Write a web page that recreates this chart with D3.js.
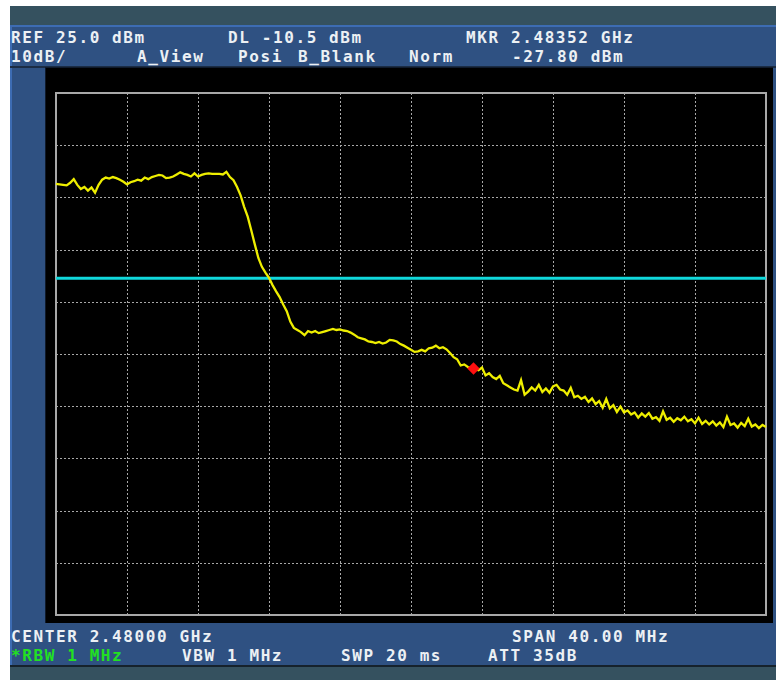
<!DOCTYPE html>
<html>
<head>
<meta charset="utf-8">
<script src="https://cdn.jsdelivr.net/npm/d3@7"></script>
<style>
  html, body { margin: 0; padding: 0; background: #ffffff; }
  svg { display: block; }
  text { font-family: "DejaVu Sans Mono", "Liberation Mono", monospace; font-size: 16px; font-weight: bold; letter-spacing: 1.6px; }
</style>
</head>
<body>
<svg id="chart" width="776" height="680"></svg>
<script>
// ---- instrument settings ----
const centerGHz = 2.48;
const spanGHz = 0.04;
const refLevel = 25.0;      // dBm, top of screen
const dbPerDiv = 10;
const divisions = 10;
const displayLine = -10.5;  // dBm
const markerFreq = 2.48352; // GHz
const markerLevel = -27.80; // dBm

// ---- header / footer labels ----
const headerRow1 = [["REF 25.0 dBm", 11], ["DL -10.5 dBm", 228], ["MKR 2.48352 GHz", 466]];
const headerRow2 = [["10dB/", 11], ["A_View", 137], ["Posi", 238], ["B_Blank", 298], ["Norm", 409], ["-27.80 dBm", 512]];
const footerRow1 = [["CENTER 2.48000 GHz", 11], ["SPAN 40.00 MHz", 512]];
const footerRow2 = [["*RBW 1 MHz", 11, true], ["VBW 1 MHz", 182], ["SWP 20 ms", 341], ["ATT 35dB", 488]];

// ---- trace (dBm at evenly spaced sweep points across the span) ----
const traceDbm = [
  7.6, 7.5, 7.4, 7.3, 7.8, 8.5, 7.4, 6.6, 7.0, 6.3,
  6.9, 5.9, 7.4, 8.4, 8.8, 8.6, 8.9, 8.7, 8.4, 8.0,
  7.5, 7.9, 8.1, 8.4, 8.2, 8.8, 8.5, 8.9, 9.1, 9.3,
  9.2, 8.7, 8.8, 9.0, 9.4, 9.8, 9.5, 9.3, 9.0, 9.6,
  9.0, 9.3, 9.5, 9.6, 9.5, 9.5, 9.5, 9.4, 9.9, 8.9,
  8.3, 7.0, 5.4, 3.2, 1.3, -1.3, -4.0, -6.6, -8.3, -9.4,
  -10.4, -11.8, -13.0, -14.1, -15.5, -16.8, -18.8, -20.0, -20.4, -20.8,
  -21.4, -20.6, -20.9, -20.6, -21.0, -20.8, -20.6, -20.4, -20.2, -20.4,
  -20.3, -20.5, -20.6, -20.9, -21.3, -21.8, -22.0, -22.2, -22.6, -22.7,
  -22.9, -22.7, -23.0, -22.8, -22.3, -22.4, -22.6, -23.1, -23.4, -23.8,
  -24.2, -24.6, -24.5, -24.2, -24.5, -23.9, -23.8, -23.4, -23.9, -23.7,
  -24.1, -24.8, -25.6, -26.0, -27.2, -27.0, -27.5, -27.7, -27.9, -28.1,
  -27.6, -29.1, -28.7, -29.4, -29.8, -29.2, -30.6, -31.0, -31.4, -31.8,
  -32.0, -30.0, -32.8, -32.2, -31.4, -32.0, -30.9, -32.3, -31.6, -32.4,
  -31.2, -30.9, -31.8, -32.0, -32.8, -31.5, -33.3, -33.0, -33.6, -33.2,
  -34.2, -33.5, -34.6, -34.0, -35.3, -33.6, -35.4, -34.8, -36.1, -35.1,
  -36.2, -35.8, -36.6, -36.2, -37.2, -36.4, -37.0, -36.3, -37.4, -37.1,
  -37.8, -36.0, -37.6, -37.2, -38.0, -37.3, -37.7, -37.0, -37.9, -37.5,
  -38.3, -37.2, -38.4, -37.8, -38.5, -37.9, -38.7, -38.1, -39.0, -37.0,
  -38.6, -38.3, -39.1, -38.2, -38.8, -37.4, -38.9, -38.5, -39.2, -38.6,
  -39.0
];

// ---- drawing ----
const W = 776, H = 680;
const plot = { left: 56, right: 766, top: 93, bottom: 615 };

const svg = d3.select("#chart");

// instrument frame
svg.append("rect").attr("x", 10).attr("y", 6).attr("width", W - 10).attr("height", 19).attr("fill", "#35515f");
svg.append("rect").attr("x", 10).attr("y", 25).attr("width", W - 10).attr("height", 641).attr("fill", "#2f5182");
svg.append("rect").attr("x", 10).attr("y", 25).attr("width", W - 10).attr("height", 2).attr("fill", "#3d6cb3");
svg.append("rect").attr("x", 10).attr("y", 25).attr("width", 2).attr("height", 641).attr("fill", "#3d6cb3");
svg.append("rect").attr("x", 10).attr("y", 666).attr("width", W - 10).attr("height", 14).attr("fill", "#35515f");
svg.append("rect").attr("x", 10).attr("y", 665).attr("width", W - 10).attr("height", 2).attr("fill", "#16222c");
svg.append("rect").attr("x", 10).attr("y", 66).attr("width", W - 10).attr("height", 2).attr("fill", "#1b2c44");
// screen
svg.append("rect").attr("x", 45).attr("y", 67).attr("width", 728).attr("height", 556).attr("fill", "#101a2a");
svg.append("rect").attr("x", 46).attr("y", 68).attr("width", 727).attr("height", 555).attr("fill", "#000000");

const x = d3.scaleLinear()
  .domain([centerGHz - spanGHz / 2, centerGHz + spanGHz / 2])
  .range([plot.left, plot.right]);
const y = d3.scaleLinear()
  .domain([refLevel - dbPerDiv * divisions, refLevel])
  .range([plot.bottom, plot.top]);

const pw = plot.right - plot.left, ph = plot.bottom - plot.top;

// graticule via axes
const xTicks = d3.range(1, divisions).map(i => x.domain()[0] + i * spanGHz / divisions);
const yTicks = d3.range(1, divisions).map(i => y.domain()[0] + i * dbPerDiv);

const gx = svg.append("g").attr("transform", `translate(0,${plot.bottom})`)
  .call(d3.axisBottom(x).tickValues(xTicks).tickSize(-ph).tickFormat(""));
const gy = svg.append("g").attr("transform", `translate(${plot.left},0)`)
  .call(d3.axisLeft(y).tickValues(yTicks).tickSize(-pw).tickFormat(""));
[gx, gy].forEach(g => {
  g.select(".domain").remove();
  g.selectAll(".tick line")
    .attr("stroke", "#a8a8a8")
    .attr("stroke-width", 1)
    .attr("stroke-dasharray", "2,2")
    .attr("shape-rendering", "crispEdges");
});

// outer graticule frame
svg.append("rect")
  .attr("x", plot.left).attr("y", plot.top)
  .attr("width", pw).attr("height", ph)
  .attr("fill", "none").attr("stroke", "#a8a8a8").attr("stroke-width", 2);

// display line
svg.append("line")
  .attr("x1", plot.left).attr("x2", plot.right)
  .attr("y1", y(displayLine)).attr("y2", y(displayLine))
  .attr("stroke", "#10d8dc").attr("stroke-width", 3);

// trace
const idxToFreq = d3.scaleLinear().domain([0, traceDbm.length - 1]).range(x.domain());
const line = d3.line()
  .x((d, i) => x(idxToFreq(i)))
  .y(d => y(d));
svg.append("path")
  .datum(traceDbm)
  .attr("d", line)
  .attr("fill", "none")
  .attr("stroke", "#eeee00")
  .attr("stroke-width", 2.3)
  .attr("stroke-linejoin", "miter");

// marker
svg.append("path")
  .attr("d", d3.symbol(d3.symbolSquare, 78)())
  .attr("transform", `translate(${x(markerFreq)},${y(markerLevel)}) rotate(45)`)
  .attr("fill", "#ff1010");

// texts
function row(items, baseline) {
  items.forEach(([t, xx, green]) => {
    svg.append("text")
      .attr("x", xx).attr("y", baseline)
      .attr("fill", green ? "#22e022" : "#ecf0f4")
      .text(t);
  });
}
row(headerRow1, 43);
row(headerRow2, 62);
row(footerRow1, 642);
row(footerRow2, 661);
</script>
</body>
</html>
